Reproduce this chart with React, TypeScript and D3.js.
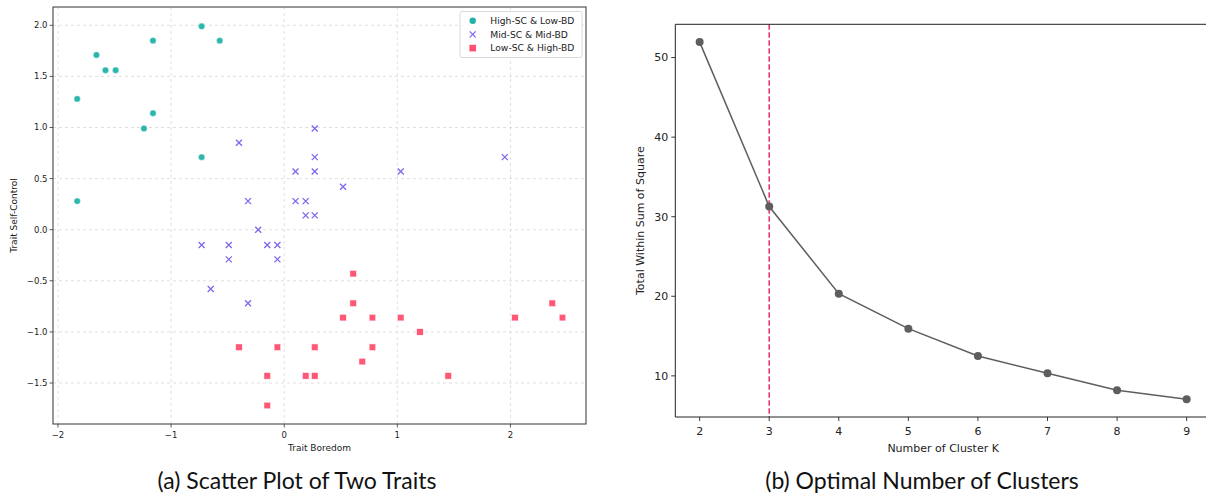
import React from 'react';
import * as d3 from 'd3';

// cluster 1: High-SC & Low-BD
const highX = [-1.83, -1.66, -1.58, -1.49, -1.16, -1.16, -1.24, -0.73, -0.57, -0.73, -1.83];
const highY = [1.28, 1.71, 1.56, 1.56, 1.85, 1.14, 0.99, 1.99, 1.85, 0.71, 0.28];

// cluster 2: Mid-SC & Mid-BD
const midX = [-0.40, -0.32, 0.10, 0.10, -0.23, 0.27, 0.27, 0.27, 1.03, 0.52, 0.19, 0.19, 0.27, 1.95,
  -0.73, -0.49, -0.49, -0.15, -0.06, -0.06, -0.65, -0.32];
const midY = [0.85, 0.28, 0.57, 0.28, 0.0, 0.99, 0.71, 0.57, 0.57, 0.42, 0.28, 0.14, 0.14, 0.71,
  -0.15, -0.15, -0.29, -0.15, -0.15, -0.29, -0.58, -0.72];

// cluster 3: Low-SC & High-BD
const lowX = [-0.40, -0.06, -0.15, -0.15, 0.61, 0.61, 0.52, 0.78, 1.03, 1.20, 0.27, 0.78, 0.69, 0.19, 0.27,
  1.45, 2.04, 2.37, 2.46];
const lowY = [-1.15, -1.15, -1.43, -1.72, -0.43, -0.72, -0.86, -0.86, -0.86, -1.0, -1.15, -1.15, -1.29, -1.43, -1.43,
  -1.43, -0.86, -0.72, -0.86];

const legendLabels = ['High-SC & Low-BD', 'Mid-SC & Mid-BD', 'Low-SC & High-BD'];
const xTicksA = [-2, -1, 0, 1, 2];
const yTicksA = [-1.5, -1.0, -0.5, 0.0, 0.5, 1.0, 1.5, 2.0];

// elbow data
const kValues = [2, 3, 4, 5, 6, 7, 8, 9];
const wss = [51.94, 31.28, 20.33, 15.93, 12.5, 10.33, 8.2, 7.07];
const yTicksB = [10, 20, 30, 40, 50];
const bestK = 3;

const TEAL = '#20b2aa';
const PURPLE = '#7b68ee';
const PINK = '#ff4f70';
const AX = '#333';
const SANS = 'DejaVu Sans, sans-serif';
const CAPTION = 'Lato, sans-serif';

const fmtMinus = (v: number) => d3.format('.1f')(v).replace('-', '\u2212');

const ScatterPanel = () => {
  const left = 53, right = 586, top = 7, bottom = 424;
  const x = d3.scaleLinear().domain([-2.044, 2.668]).range([left, right]);
  const y = d3.scaleLinear().domain([-1.901, 2.179]).range([bottom, top]);
  const s = 3;

  return (
    <g>
      {/* grid */}
      {xTicksA.map(t => (
        <line key={'gx' + t} x1={x(t)} x2={x(t)} y1={top} y2={bottom} stroke="#d8d8d8" strokeWidth={0.8} strokeDasharray="3,3" />
      ))}
      {yTicksA.map(t => (
        <line key={'gy' + t} x1={left} x2={right} y1={y(t)} y2={y(t)} stroke="#d8d8d8" strokeWidth={0.8} strokeDasharray="3,3" />
      ))}

      {highX.map((v, i) => (
        <circle key={'h' + i} cx={x(v)} cy={y(highY[i])} r={3.2} fill={TEAL} fillOpacity={0.95} stroke="#fff" strokeWidth={0.4} />
      ))}
      {midX.map((v, i) => {
        const cx = x(v), cy = y(midY[i]);
        return (
          <path key={'m' + i} d={`M${cx - s},${cy - s}L${cx + s},${cy + s}M${cx - s},${cy + s}L${cx + s},${cy - s}`}
            stroke={PURPLE} strokeWidth={1.3} fill="none" />
        );
      })}
      {lowX.map((v, i) => (
        <rect key={'l' + i} x={x(v) - 3.3} y={y(lowY[i]) - 3.3} width={6.6} height={6.6} fill={PINK} fillOpacity={0.95} stroke="#fff" strokeWidth={0.5} />
      ))}

      {/* frame */}
      <rect x={left} y={top} width={right - left} height={bottom - top} fill="none" stroke={AX} strokeWidth={1} />

      {xTicksA.map(t => (
        <g key={'tx' + t}>
          <line x1={x(t)} x2={x(t)} y1={bottom} y2={bottom + 3.5} stroke={AX} strokeWidth={0.8} />
          <text x={x(t)} y={bottom + 14} textAnchor="middle" fontSize={8.5} fontFamily={SANS} fill="#222">
            {String(t).replace('-', '\u2212')}
          </text>
        </g>
      ))}
      {yTicksA.map(t => (
        <g key={'ty' + t}>
          <line x1={left - 3.5} x2={left} y1={y(t)} y2={y(t)} stroke={AX} strokeWidth={0.8} />
          <text x={left - 5.5} y={y(t)} dy="0.35em" textAnchor="end" fontSize={8.5} fontFamily={SANS} fill="#222">
            {fmtMinus(t)}
          </text>
        </g>
      ))}

      <text x={(left + right) / 2} y={451} textAnchor="middle" fontSize={9} fontFamily={SANS} fill="#222">Trait Boredom</text>
      <text transform={`translate(17,${(top + bottom) / 2}) rotate(-90)`} textAnchor="middle" fontSize={9} fontFamily={SANS} fill="#222">
        Trait Self-Control
      </text>

      {/* legend */}
      <rect x={460} y={11.5} width={122} height={46} rx={2} fill="#fff" fillOpacity={0.85} stroke="#d0d0d0" strokeWidth={0.8} />
      {legendLabels.map((lab, i) => {
        const ly = 20.7 + i * 13.7;
        const lx = 472.7;
        return (
          <g key={lab}>
            {i === 0 && <circle cx={lx} cy={ly} r={3.2} fill={TEAL} />}
            {i === 1 && (
              <path d={`M${lx - s},${ly - s}L${lx + s},${ly + s}M${lx - s},${ly + s}L${lx + s},${ly - s}`} stroke={PURPLE} strokeWidth={1.3} />
            )}
            {i === 2 && <rect x={lx - 3.3} y={ly - 3.3} width={6.6} height={6.6} fill={PINK} />}
            <text x={490.3} y={ly} dy="0.35em" fontSize={9.2} fontFamily={SANS} fill="#222">{lab}</text>
          </g>
        );
      })}
    </g>
  );
};

const ElbowPanel = () => {
  const left = 675.3, right = 1211, top = 24.3, bottom = 417;
  const x = d3.scaleLinear().domain([1.65, 9.35]).range([left, right]);
  const y = d3.scaleLinear().domain([4.83, 54.18]).range([bottom, top]);
  const line = d3.line<number>().x((_, i) => x(kValues[i])).y(d => y(d));

  return (
    <g>
      <line x1={x(bestK)} x2={x(bestK)} y1={top} y2={bottom} stroke="#e63a6e" strokeWidth={1.6} strokeDasharray="5.5,2.5" />
      <path d={line(wss) || ''} fill="none" stroke="#5e5e5e" strokeWidth={1.5} />
      {wss.map((v, i) => (
        <circle key={'p' + i} cx={x(kValues[i])} cy={y(v)} r={4} fill="#5e5e5e" />
      ))}

      <line x1={left} x2={right} y1={top} y2={top} stroke="#222" strokeWidth={1} />
      <line x1={left} x2={right} y1={bottom} y2={bottom} stroke="#222" strokeWidth={1} />
      <line x1={left} x2={left} y1={top} y2={bottom} stroke="#222" strokeWidth={1} />
      <line x1={right} x2={right} y1={top} y2={bottom} stroke="#222" strokeWidth={1} />

      {kValues.map(k => (
        <g key={'kx' + k}>
          <line x1={x(k)} x2={x(k)} y1={bottom} y2={bottom + 4} stroke="#222" strokeWidth={0.9} />
          <text x={x(k)} y={bottom + 18} textAnchor="middle" fontSize={11} fontFamily={SANS} fill="#222">{k}</text>
        </g>
      ))}
      {yTicksB.map(t => (
        <g key={'ky' + t}>
          <line x1={left - 4} x2={left} y1={y(t)} y2={y(t)} stroke="#222" strokeWidth={0.9} />
          <text x={left - 7} y={y(t)} dy="0.35em" textAnchor="end" fontSize={11} fontFamily={SANS} fill="#222">{t}</text>
        </g>
      ))}

      <text x={(left + right) / 2} y={451.5} textAnchor="middle" fontSize={11} fontFamily={SANS} fill="#222">Number of Cluster K</text>
      <text transform={`translate(644,${(top + bottom) / 2}) rotate(-90)`} textAnchor="middle" fontSize={11} fontFamily={SANS} fill="#222">
        Total Within Sum of Square
      </text>
    </g>
  );
};

export default function App() {
  return (
    <svg width={1206} height={495} style={{ position: 'fixed', left: 0, top: 0, background: '#fff' }}>
      <rect width={1206} height={495} fill="#fff" />
      <ScatterPanel />
      <ElbowPanel />
      <text x={297} y={489} textAnchor="middle" fontSize={23} fontFamily={CAPTION} fill="#111">
        (a) Scatter Plot of Two Traits
      </text>
      <text x={922} y={489} textAnchor="middle" fontSize={23} fontFamily={CAPTION} fill="#111">
        (b) Optimal Number of Clusters
      </text>
    </svg>
  );
}
